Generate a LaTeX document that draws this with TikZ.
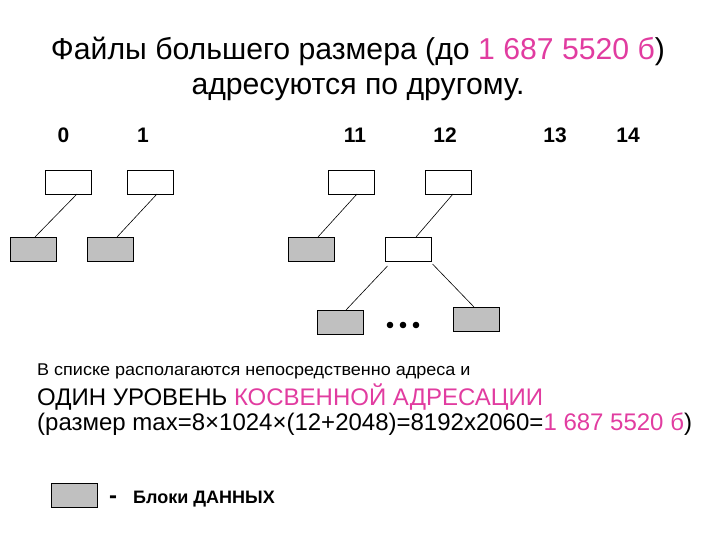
\documentclass[tikz,border=0pt]{standalone}
\usepackage{fontspec}
\setmainfont{Liberation Sans}
\usetikzlibrary{calc}
\definecolor{pinkc}{RGB}{225,60,160}
\definecolor{grayfill}{RGB}{192,192,192}
\begin{document}
\begin{tikzpicture}[x=1pt,y=-1pt,
  wbox/.style={draw=black,line width=0.9pt,fill=white,minimum width=46pt,minimum height=24pt,inner sep=0pt,outer sep=0pt},
  gbox/.style={draw=black,line width=0.9pt,fill=grayfill,minimum width=46pt,minimum height=24pt,inner sep=0pt,outer sep=0pt},
  link/.style={draw=black,line width=0.6pt},
  txt/.style={inner sep=0pt,anchor=base west},
  lbl/.style={inner sep=0pt,anchor=base,font=\fontsize{21}{24}\selectfont\bfseries}]
\useasboundingbox (0,0) rectangle (720,540);
% title
\node[inner sep=0pt,anchor=base] (t1) at (358,60) {\fontsize{30.2}{34}\selectfont Файлы большего размера (до \textcolor{pinkc}{1 687 5520 б})};
\node[inner sep=0pt,anchor=base] (t2) at (358,95) {\fontsize{30.2}{34}\selectfont адресуются по другому.};
% index labels
\node[lbl] (l0) at (63.5,143) {0};
\node[lbl] (l1) at (143,143) {1};
\node[lbl] (l11) at (355,143) {11};
\node[lbl] (l12) at (445,143) {12};
\node[lbl] (l13) at (555,143) {13};
\node[lbl] (l14) at (628,143) {14};
% boxes
\node[wbox] (b0) at (68.5,182) {};
\node[wbox] (b1) at (150.5,182) {};
\node[wbox] (b11) at (351.5,182) {};
\node[wbox] (b12) at (448,182) {};
\node[gbox] (g0) at (33.5,249) {};
\node[gbox] (g1) at (110.5,249) {};
\node[gbox] (g11) at (311.5,249) {};
\node[wbox] (mid) at (408.5,249) {};
\node[gbox] (bl) at (340,322) {};
\node[gbox] (br) at (476.5,319) {};
% links
\draw[link] ($(b0.south)+(8.5,0)$) -- ($(g0.north)+(1.5,0)$);
\draw[link] ($(b1.south)+(6.5,0)$) -- ($(g1.north)+(6.5,0)$);
\draw[link] ($(b11.south)+(5.5,0)$) -- ($(g11.north)+(6.5,0)$);
\draw[link] ($(b12.south)+(5,0)$) -- ($(mid.north)+(7.5,0)$);
\draw[link] ($(mid.south west)+(2,5)$) -- ($(bl.north)+(6,0)$);
\draw[link] ($(mid.south east)+(1,3)$) -- ($(br.north)+(-2.5,0)$);
% dots
\foreach \x/\n in {390/d1,403/d2,416/d3}
  \fill (\x,325) circle (3.3pt) coordinate (\n);
% text block
\node[txt] (s1) at (37,375) {\scalebox{1.06}[1]{\fontsize{17}{19}\selectfont В списке располагаются непосредственно адреса и}};
\node[txt] (s2) at (37,405) {\fontsize{24}{27}\selectfont ОДИН УРОВЕНЬ \textcolor{pinkc}{КОСВЕННОЙ АДРЕСАЦИИ}};
\node[txt] (s3) at (37,430) {\fontsize{24}{27}\selectfont (размер max=8×1024×(12+2048)=8192х2060=\textcolor{pinkc}{1 687 5520 б})};
% legend
\node[gbox] (lg) at (74,495) {};
\node[txt] (dash) at (109,503) {\fontsize{24}{26}\selectfont\bfseries -};
\node[txt] (lt) at (133,503) {\fontsize{18}{20}\selectfont\bfseries Блоки ДАННЫХ};
\end{tikzpicture}
\end{document}
